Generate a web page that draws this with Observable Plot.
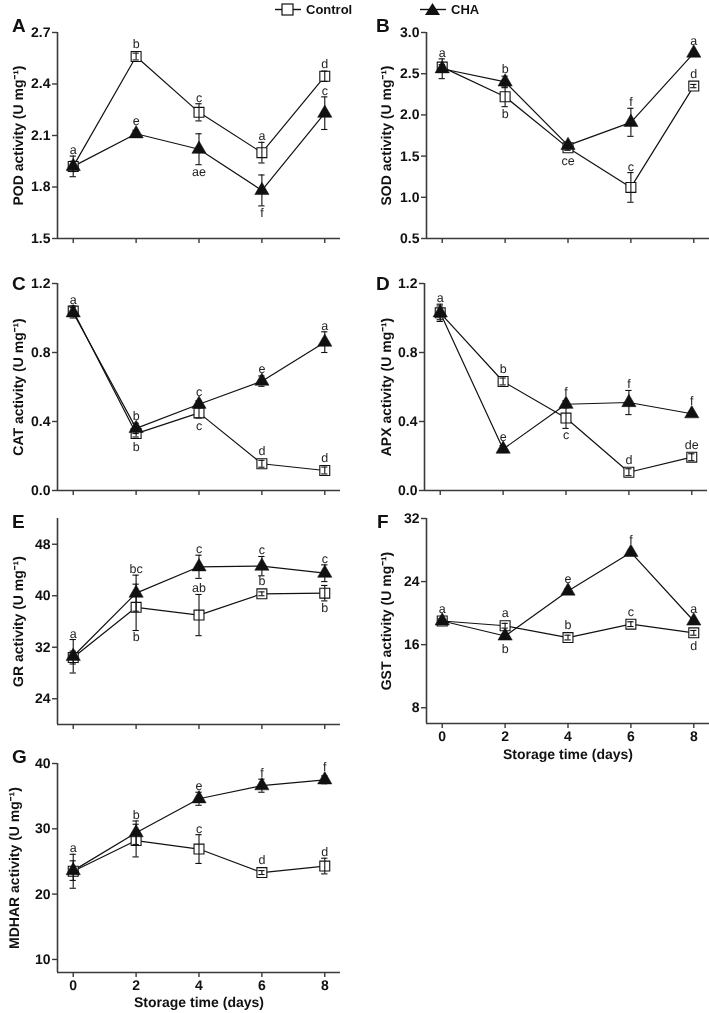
<!DOCTYPE html>
<html><head><meta charset="utf-8">
<script src="https://cdn.jsdelivr.net/npm/d3@7"></script>
<script src="https://cdn.jsdelivr.net/npm/@observablehq/plot@0.6"></script>
<style>
body{margin:0;background:#fff;font-family:"Liberation Sans",Arial,sans-serif;}
#wrap{position:relative;width:709px;height:1013px;overflow:hidden;background:#fff;filter:grayscale(1);}
.panel{position:absolute;}
.panel svg{text-rendering:geometricPrecision;}
.plab{position:absolute;font-weight:bold;font-size:19px;line-height:1;color:#111;transform:translateY(-50%);}
.leg{position:absolute;display:flex;align-items:center;font-weight:bold;font-size:13px;color:#111;}
.leg svg{margin-right:4px;}
</style></head><body><div id="wrap"></div>
<script>
const days = [0, 2, 4, 6, 8];
const panelIds = ["A", "B", "C", "D", "E", "F", "G"];
const yLabels = ["POD activity (U mg⁻¹)", "SOD activity (U mg⁻¹)", "CAT activity (U mg⁻¹)", "APX activity (U mg⁻¹)", "GR activity (U mg⁻¹)", "GST activity (U mg⁻¹)", "MDHAR activity (U mg⁻¹)"];
const yDomains = [[1.5, 2.7], [0.5, 3.0], [0, 1.2], [0, 1.2], [20, 52], [6, 32], [8, 40]];
const yTicks = [[1.5, 1.8, 2.1, 2.4, 2.7], [0.5, 1.0, 1.5, 2.0, 2.5, 3.0], [0, 0.4, 0.8, 1.2], [0, 0.4, 0.8, 1.2], [24, 32, 40, 48], [8, 16, 24, 32], [10, 20, 30, 40]];
const yTickDecimals = [1, 1, 1, 1, 0, 0, 0];
const xTitle = "Storage time (days)";
const seriesNames = ["Control", "CHA"];

const controlMean = [
  [1.92, 2.56, 2.235, 2.00, 2.445],
  [2.58, 2.22, 1.60, 1.12, 2.35],
  [1.04, 0.33, 0.45, 0.155, 0.116],
  [1.03, 0.632, 0.42, 0.106, 0.193],
  [30.4, 38.2, 37.0, 40.3, 40.4],
  [19.0, 18.4, 16.9, 18.6, 17.5],
  [23.5, 28.2, 26.9, 23.3, 24.3]
];
const controlErr = [
  [0.03, 0.02, 0.05, 0.06, 0.03],
  [0.03, 0.12, 0.03, 0.18, 0.02],
  [0.03, 0.02, 0.03, 0.02, 0.02],
  [0.05, 0.02, 0.06, 0.02, 0.02],
  [1.0, 3.6, 3.2, 0.3, 1.2],
  [0.3, 0.3, 0.3, 0.3, 0.3],
  [2.6, 2.5, 2.2, 0.3, 1.2]
];
const chaMean = [
  [1.92, 2.11, 2.02, 1.78, 2.23],
  [2.56, 2.40, 1.63, 1.91, 2.75],
  [1.03, 0.36, 0.50, 0.634, 0.86],
  [1.03, 0.24, 0.50, 0.51, 0.445],
  [30.6, 40.4, 44.5, 44.6, 43.5],
  [19.0, 17.1, 22.8, 27.7, 19.0],
  [23.6, 29.4, 34.6, 36.6, 37.5]
];
const chaErr = [
  [0.06, 0.02, 0.09, 0.09, 0.095],
  [0.12, 0.07, 0.04, 0.17, 0.02],
  [0.03, 0.03, 0.02, 0.03, 0.06],
  [0.04, 0.02, 0.02, 0.07, 0.01],
  [2.6, 2.8, 1.8, 1.5, 1.3],
  [0.3, 0.3, 0.3, 0.3, 0.3],
  [1.5, 1.8, 1.0, 1.0, 0.6]
];
const controlLetters = [
  ["", "b", "c", "a", "d"],
  ["", "b", "ce", "c", "d"],
  ["", "b", "c", "d", "d"],
  ["a", "b", "c", "d", "de"],
  ["", "b", "ab", "b", "b"],
  ["", "a", "b", "c", "d"],
  ["a", "", "c", "d", "d"]
];
const controlLetterSide = [
  ["t", "t", "t", "t", "t"],
  ["t", "b", "b", "t", "t"],
  ["t", "b", "b", "t", "t"],
  ["t", "t", "b", "t", "t"],
  ["t", "b", "t", "t", "b"],
  ["t", "t", "t", "t", "b"],
  ["t", "t", "t", "t", "t"]
];
const chaLetters = [
  ["a", "e", "ae", "f", "c"],
  ["a", "b", "", "f", "a"],
  ["a", "b", "c", "e", "a"],
  ["", "e", "f", "f", "f"],
  ["a", "bc", "c", "c", "c"],
  ["a", "b", "e", "f", "a"],
  ["", "b", "e", "f", "f"]
];
const chaLetterSide = [
  ["t", "t", "b", "b", "t"],
  ["t", "t", "t", "t", "t"],
  ["t", "t", "t", "t", "t"],
  ["t", "t", "t", "t", "t"],
  ["t", "t", "t", "t", "t"],
  ["t", "b", "t", "t", "t"],
  ["t", "t", "t", "t", "t"]
];

// ---- layout (not data) ----
const layouts = [
  {left: 0,   top: 12,  width: 354, mT: 20, ih: 206, mB: 14, mL: 57, mR: 14, labX: 18, xLabels: false},
  {left: 352, top: 12,  width: 357, mT: 20, ih: 206, mB: 14, mL: 74, mR: 0,  labX: 34, xLabels: false},
  {left: 0,   top: 263, width: 354, mT: 20, ih: 207, mB: 14, mL: 57, mR: 14, labX: 18, xLabels: false},
  {left: 352, top: 263, width: 357, mT: 20, ih: 207, mB: 14, mL: 72, mR: 2,  labX: 34, xLabels: false},
  {left: 0,   top: 498, width: 354, mT: 20, ih: 206, mB: 14, mL: 57, mR: 14, labX: 18, xLabels: false},
  {left: 352, top: 498, width: 357, mT: 20, ih: 205, mB: 45, mL: 74, mR: 0,  labX: 34, xLabels: true, titleDy: 31},
  {left: 0,   top: 743, width: 354, mT: 20, ih: 209, mB: 41, mL: 57, mR: 14, labX: 14, xLabels: true, titleDy: 30}
];
const panelLetterPos = [[12, 25], [376, 25], [12, 283], [376, 283], [12, 521], [377, 521], [12, 756]];
const xDomain = [-0.5, 8.5];
const ink = "#111";
const axisInk = "#3a3a3a";

const wrap = document.getElementById("wrap");

panelIds.forEach((id, i) => {
  const L = layouts[i];
  const yd = yDomains[i];
  const pxPerUnit = L.ih / (yd[1] - yd[0]);
  const minOff = 6.5 / pxPerUnit;
  const mk = (means, errs, labs, sides) => days.map((d, j) => ({
    day: d, v: means[i][j], e: errs[i][j], lab: labs[i][j], side: sides[i][j]
  }));
  const ctrl = mk(controlMean, controlErr, controlLetters, controlLetterSide);
  const cha = mk(chaMean, chaErr, chaLetters, chaLetterSide);
  const allLab = ctrl.concat(cha).filter(d => d.lab !== "");
  const above = allLab.filter(d => d.side === "t");
  const below = allLab.filter(d => d.side === "b");
  const cap = 0.1;
  const errMarks = (data) => [
    Plot.ruleX(data, {x: "day", y1: d => d.v - d.e, y2: d => d.v + d.e, stroke: ink, strokeWidth: 1.1}),
    Plot.ruleY(data, {y: d => d.v + d.e, x1: d => d.day - cap, x2: d => d.day + cap, stroke: ink, strokeWidth: 1.1}),
    Plot.ruleY(data, {y: d => d.v - d.e, x1: d => d.day - cap, x2: d => d.day + cap, stroke: ink, strokeWidth: 1.1})
  ];
  const fmt = d3.format("." + yTickDecimals[i] + "f");
  const marks = [
    Plot.ruleY([yd[0]], {stroke: axisInk, strokeWidth: 1.6}),
    Plot.ruleX([xDomain[0]], {stroke: axisInk, strokeWidth: 1.6}),
    Plot.axisY({ticks: yTicks[i], tickSize: 5, tickPadding: 2, tickFormat: fmt, label: null,
      fontSize: 14, fontWeight: "bold", stroke: axisInk, strokeWidth: 1.4, fill: ink}),
    Plot.axisX({ticks: days, tickSize: 5, tickPadding: 3, tickFormat: L.xLabels ? (d => String(d)) : (() => ""),
      label: null, fontSize: 14, fontWeight: "bold", stroke: axisInk, strokeWidth: 1.4, fill: ink}),
    Plot.text([yLabels[i]], {frameAnchor: "left", textAnchor: "middle", dx: L.labX - L.mL, rotate: -90, text: d => d,
      fontSize: 14, fontWeight: "bold", fill: ink}),
    Plot.line(ctrl, {x: "day", y: "v", stroke: ink, strokeWidth: 1.2}),
    Plot.line(cha, {x: "day", y: "v", stroke: ink, strokeWidth: 1.2}),
    Plot.dot(ctrl, {x: "day", y: "v", symbol: "square", r: 5.6, fill: "white", stroke: ink, strokeWidth: 1.1}),
    ...errMarks(ctrl),
    Plot.dot(cha, {x: "day", y: "v", symbol: "triangle", r: 5.3, fill: ink, stroke: ink, strokeWidth: 0.5}),
    ...errMarks(cha),
    Plot.text(above, {x: "day", y: d => d.v + Math.max(d.e, minOff), text: "lab", lineAnchor: "bottom", dy: -2,
      fontSize: 12.5, fill: "#222"}),
    Plot.text(below, {x: "day", y: d => d.v - Math.max(d.e, minOff), text: "lab", lineAnchor: "top", dy: 2,
      fontSize: 12.5, fill: "#222"})
  ];
  if (L.xLabels) {
    marks.push(Plot.text([xTitle], {frameAnchor: "bottom", dy: L.titleDy, text: d => d, lineAnchor: "middle",
      fontSize: 14, fontWeight: "bold", fill: ink}));
  }
  const chart = Plot.plot({
    width: L.width,
    height: L.mT + L.ih + L.mB,
    marginLeft: L.mL, marginRight: L.mR, marginTop: L.mT, marginBottom: L.mB,
    x: {domain: xDomain, axis: null},
    y: {domain: yd, axis: null},
    style: {background: "transparent", overflow: "visible", fontFamily: "'Liberation Sans', Arial, sans-serif"},
    marks
  });
  const div = document.createElement("div");
  div.className = "panel";
  div.style.left = L.left + "px";
  div.style.top = L.top + "px";
  div.appendChild(chart);
  wrap.appendChild(div);

  const pl = document.createElement("div");
  pl.className = "plab";
  pl.textContent = id;
  pl.style.left = panelLetterPos[i][0] + "px";
  pl.style.top = panelLetterPos[i][1] + "px";
  wrap.appendChild(pl);
});

// legend
const legendPos = [[274, 9], [419, 9]];
seriesNames.forEach((name, k) => {
  const d = document.createElement("div");
  d.className = "leg";
  d.style.left = legendPos[k][0] + "px";
  d.style.top = (legendPos[k][1] - 8) + "px";
  d.style.height = "16px";
  const marker = k === 0
    ? '<rect x="8" y="3" width="11" height="11" fill="white" stroke="#111" stroke-width="1.2"/>'
    : '<path d="M13.5,2 L21,14 L6,14 Z" fill="#111"/>';
  d.innerHTML = '<svg width="28" height="16"><line x1="1" y1="8.5" x2="27" y2="8.5" stroke="#111" stroke-width="1.4"/>' +
    marker + '</svg><span>' + name + '</span>';
  wrap.appendChild(d);
});
</script>
</body></html>
